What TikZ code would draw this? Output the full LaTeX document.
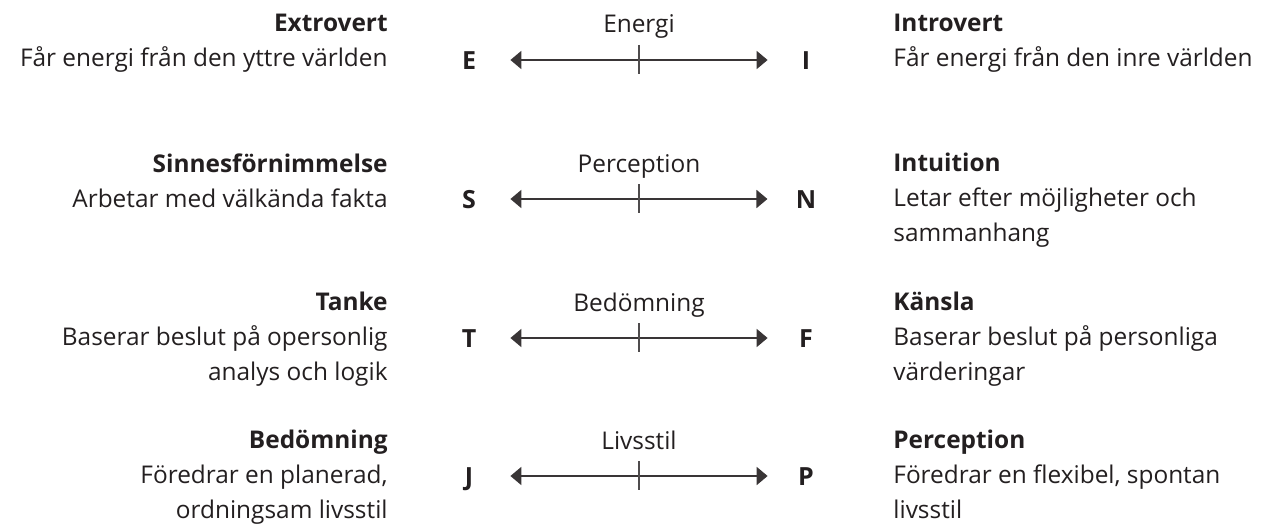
\documentclass[tikz,border=0pt]{standalone}
\usepackage{fontspec}
\setmainfont{Open Sans}
\usetikzlibrary{arrows.meta}

\definecolor{ink}{HTML}{231F20}

\newcommand*{\xleft}{388}
\newcommand*{\xright}{893}
\newcommand*{\xmid}{639}
\newcommand*{\xE}{469}
\newcommand*{\xI}{806}

\begin{document}
\begin{tikzpicture}
[
	x=0.5pt, y=-0.5pt,
	every node/.style={text=ink,inner sep=0pt,font=\fontsize{12.2}{17.5}\selectfont},
	letter/.style={font=\fontsize{12.5}{17}\selectfont\bfseries,text height=9pt,text depth=0pt,minimum width=10pt,anchor=center},
	lefttext/.style={anchor=north east,align=right,execute at begin node=\strut},
	righttext/.style={anchor=north west,align=left,execute at begin node=\strut},
	scalelabel/.style={anchor=base},
	scaleline/.style={{Triangle[length=5.5pt,width=9pt]}-{Triangle[length=5.5pt,width=9pt]},
		line width=1pt,draw=ink!90,shorten <=15.5pt,shorten >=14pt},
	tickline/.style={line width=0.7pt,draw=ink!80}
]

	% picture frame
	\useasboundingbox (0,0) rectangle (1262,524);

	\foreach \y/\a/\b/\lab/\lt/\rt [count=\i] in {
		60/E/I/Energi/{\textbf{Extrovert}\\Får energi från den yttre världen}/{\textbf{Introvert}\\Får energi från den inre världen},
		199/S/N/Perception/{\textbf{Sinnesförnimmelse}\\Arbetar med välkända fakta}/{\textbf{Intuition}\\Letar efter möjligheter och\\sammanhang},
		338/T/F/Bedömning/{\textbf{Tanke}\\Baserar beslut på opersonlig\\analys och logik}/{\textbf{Känsla}\\Baserar beslut på personliga\\värderingar},
		476/J/P/Livsstil/{\textbf{Bedömning}\\Föredrar en planerad,\\ordningsam livsstil}/{\textbf{Perception}\\Föredrar en flexibel, spontan\\livsstil}%
	} {
		% texts on both sides, strut gives the first baseline
		\node[lefttext] (left\i) at (\xleft,\y-46) {\lt};
		\node[righttext] (right\i) at (\xright,\y-46) {\rt};
		\node[scalelabel] (mid\i) at (\xmid,\y-27) {\lab};

		\node[letter] (a\i) at (\xE,\y) {\a};
		\node[letter] (b\i) at (\xI,\y) {\b};

		\draw[scaleline] (a\i.east) -- (b\i.west);
		\draw[tickline] (\xmid,\y-15) -- (\xmid,\y+14);
	}

\end{tikzpicture}
\end{document}
